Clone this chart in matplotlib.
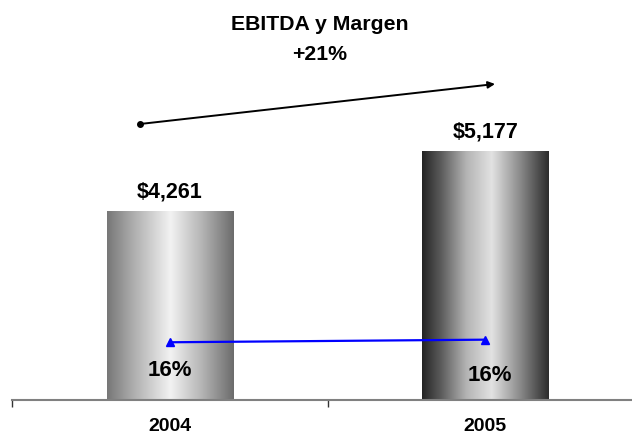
import matplotlib
matplotlib.use("Agg")
import matplotlib.pyplot as plt
import numpy as np
from matplotlib.colors import LinearSegmentedColormap

plt.rcParams['font.family'] = ['Liberation Sans', 'DejaVu Sans']

# ---- data ----
years = ["2004", "2005"]
ebitda = [4261, 5177]
ebitda_labels = ["$4,261", "$5,177"]
margin = [16.2, 16.5]
margin_labels = ["16%", "16%"]
title_lines = ["EBITDA y Margen", "+21%"]

W, H, DPI = 632, 439, 100
fig = plt.figure(figsize=(W / DPI, H / DPI), dpi=DPI)
ax = fig.add_axes([12.3 / W, (H - 401) / H, 630.8 / W, 401 / H])
YMIN, YMAX = 1390, 7504
ax.set_xlim(-0.5, 1.5)
ax.set_ylim(YMIN, YMAX)

x = np.arange(len(years))
bars = ax.bar(x, ebitda, width=0.4, facecolor="none", edgecolor="none", zorder=2)

cmaps = [
    LinearSegmentedColormap.from_list("g1", [
        (0.0, "#777777"), (0.2, "#acacac"), (0.5, "#f2f2f2"),
        (0.75, "#b4b4b4"), (1.0, "#6c6c6c")]),
    LinearSegmentedColormap.from_list("g2", [
        (0.0, "#242424"), (0.15, "#5c5c5c"), (0.35, "#b4b4b4"),
        (0.55, "#e2e2e2"), (0.78, "#888888"), (1.0, "#2c2c2c")]),
]
grad = np.linspace(0, 1, 256).reshape(1, -1)
for b, cm in zip(bars, cmaps):
    x0 = b.get_x()
    w, top = b.get_width(), b.get_y() + b.get_height()
    ax.imshow(grad, cmap=cm, extent=[x0, x0 + w, YMIN, top],
              aspect="auto", zorder=1, interpolation="bilinear")
ax.set_xlim(-0.5, 1.5)
ax.set_ylim(YMIN, YMAX)

for xi, v, lab in zip(x, ebitda, ebitda_labels):
    ax.annotate(lab, (xi, v), xytext=(0, 15), textcoords="offset points",
                ha="center", va="center", fontsize=15.5, fontweight="bold")

# margin on secondary axis
ax2 = ax.twinx()
ax2.set_ylim(9.54, 55.8)
ax2.plot(x, margin, color="#0000ff", lw=1.6, marker="^", markersize=6, zorder=5)
ax2.axis("off")
offsets = [(0, -19.5), (3, -25)]
for xi, m, lab, off in zip(x, margin, margin_labels, offsets):
    ax2.annotate(lab, (xi, m), xytext=off, textcoords="offset points",
                 ha="center", va="center", fontsize=16, fontweight="bold")

# axes styling
for s in ["top", "right", "left"]:
    ax.spines[s].set_visible(False)
ax.spines["bottom"].set_color("#808080")
ax.spines["bottom"].set_linewidth(1.5)
ax.set_yticks([])
ax.set_xticks([-0.5, 0.5, 1.5])
ax.set_xticklabels([])
ax.tick_params(axis="x", which="major", direction="out", length=5, width=1, color="#333333")
ax.set_xticks(x, minor=True)
ax.set_xticklabels(years, minor=True, fontsize=14, fontweight="bold")
ax.tick_params(axis="x", which="minor", length=0, pad=12.5)

# title
fig.text(320 / W, 1 - 25 / H, title_lines[0], ha="center", va="center",
         fontsize=15.3, fontweight="bold")
fig.text(320 / W, 1 - 54.5 / H, title_lines[1], ha="center", va="center",
         fontsize=15.3, fontweight="bold")

# growth arrow
ax.annotate("", xy=(495 / W, 1 - 85 / H), xytext=(140 / W, 1 - 125 / H),
            xycoords="figure fraction", textcoords="figure fraction",
            arrowprops=dict(arrowstyle="-|>", color="black", lw=1.4,
                            mutation_scale=10, shrinkA=0, shrinkB=0))
fig.add_artist(plt.Line2D([140 / W], [1 - 125 / H], marker="o", markersize=4,
                          color="black", transform=fig.transFigure))

fig.savefig("out.png", dpi=DPI)
